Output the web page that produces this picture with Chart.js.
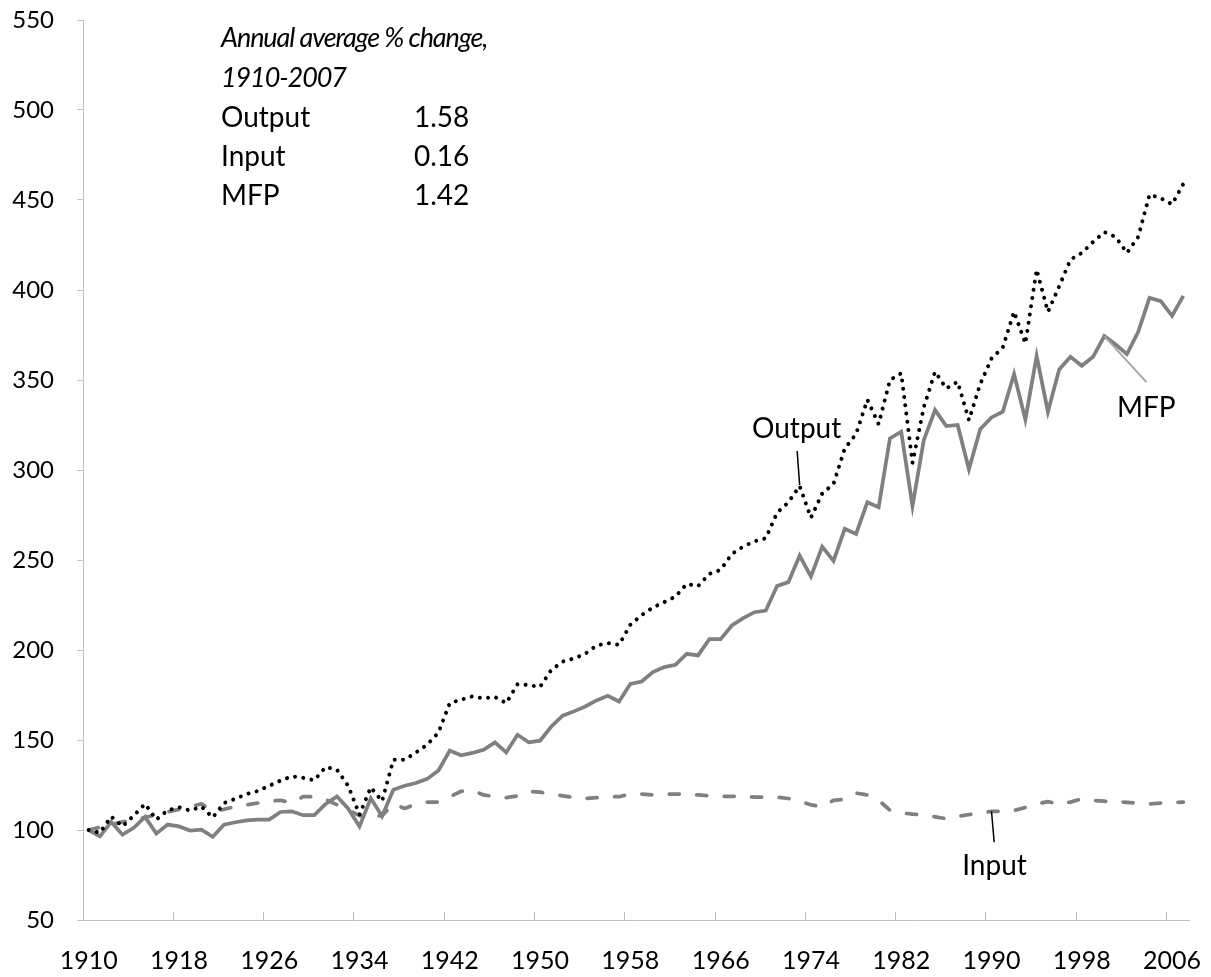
<!DOCTYPE html>
<html>
<head>
<meta charset="utf-8">
<title>Output, input and MFP index, 1910-2007</title>
<script src="https://cdn.jsdelivr.net/npm/chart.js@4.4.1/dist/chart.umd.min.js"></script>
<style>
  body { margin: 0; background: #fff; }
  #wrap { width: 1211px; height: 977px; }
</style>
</head>
<body>
<div id="wrap"><canvas id="chart" width="1211" height="977"></canvas></div>
<script>
const years = [
  1910, 1911, 1912, 1913, 1914, 1915, 1916, 1917, 1918, 1919,
  1920, 1921, 1922, 1923, 1924, 1925, 1926, 1927, 1928, 1929,
  1930, 1931, 1932, 1933, 1934, 1935, 1936, 1937, 1938, 1939,
  1940, 1941, 1942, 1943, 1944, 1945, 1946, 1947, 1948, 1949,
  1950, 1951, 1952, 1953, 1954, 1955, 1956, 1957, 1958, 1959,
  1960, 1961, 1962, 1963, 1964, 1965, 1966, 1967, 1968, 1969,
  1970, 1971, 1972, 1973, 1974, 1975, 1976, 1977, 1978, 1979,
  1980, 1981, 1982, 1983, 1984, 1985, 1986, 1987, 1988, 1989,
  1990, 1991, 1992, 1993, 1994, 1995, 1996, 1997, 1998, 1999,
  2000, 2001, 2002, 2003, 2004, 2005, 2006, 2007
];

// index, 1910 = 100
const output = [
  100, 98.5, 107.5, 102, 108, 114.5, 105.8, 111, 112.6, 110.8,
  113, 107, 115, 117.3, 120, 121.7, 124.6, 127.4, 129.8, 129,
  127.6, 135, 133.5, 124.5, 108.5, 123.7, 116, 139, 139, 143,
  147.4, 154.2, 170.5, 172.4, 174.2, 173.1, 173.9, 170.5, 181, 180.5,
  179.5, 189, 193.6, 195.3, 197.9, 202.5, 203.8, 202.9, 214, 219.4,
  223.6, 226.6, 229.7, 236.7, 235.5, 242.3, 244.5, 253.4, 257.5, 260.4,
  262.1, 276.3, 282, 291.1, 273.5, 287, 292.2, 312, 320, 339,
  325.5, 350, 353.7, 304, 334.8, 354.6, 345.3, 349, 327.7, 347.7,
  362, 368, 387.9, 370.3, 411.4, 387.9, 402.1, 416.9, 420.6, 426.7,
  432.2, 429.5, 420.6, 429.5, 453, 451, 447.6, 459
];

const input = [
  100, 101.5, 103, 104.5, 105.5, 107, 108.5, 110, 111.5, 113,
  114.5, 110.5, 111.5, 113, 114, 115, 116, 116.5, 115, 118.5,
  118.5, 117, 114, 111, 108, 107.5, 108, 114.5, 112, 114.5,
  115.5, 115.5, 118.5, 121.5, 122, 119.5, 118.5, 118, 119, 121.5,
  121, 120, 119, 118, 117.5, 118, 118.5, 118.5, 120, 120,
  119.5, 120, 120, 119.7, 119.5, 119, 118.7, 118.7, 118.5, 118.3,
  118.3, 118.2, 117.5, 116, 114, 112.8, 116.5, 117, 120.5, 119.5,
  116.5, 111, 109.5, 108.8, 108.3, 107.3, 106.3, 107.5, 108.6, 109.3,
  110.4, 110.4, 110.8, 112.5, 114.5, 115.8, 114.2, 115.5, 117.3, 116.5,
  116, 115.6, 115.4, 114.8, 114.5, 115, 115.2, 115.5
];

const mfp = [
  100, 96.5, 104.5, 97.4, 101.2, 107.3, 98, 103, 102, 99.7,
  100.2, 96.2, 103, 104.3, 105.4, 105.8, 105.8, 110, 110.4, 108.2,
  108.3, 114.5, 118.7, 111.8, 102, 117.6, 107.6, 122.4, 124.6, 126.1,
  128.4, 133.1, 144.1, 141.5, 142.8, 144.6, 148.7, 143.1, 152.9, 148.7,
  149.6, 157.5, 163.5, 165.9, 168.6, 172, 174.6, 171.4, 181.2, 182.5,
  187.7, 190.5, 191.8, 197.9, 197, 206, 206, 213.6, 217.7, 221,
  221.9, 235.6, 237.7, 252.4, 240.8, 257.4, 249.5, 267.3, 264.5, 282.1,
  279.3, 317.6, 321.3, 280, 316.6, 333.3, 324.4, 325, 300.4, 322.6,
  329.2, 332.4, 353.3, 328.1, 363.3, 332.4, 355.9, 362.9, 357.9, 362.9,
  374.4, 369.7, 364.4, 376.8, 395.6, 393.8, 385.6, 396.7
];

const summaryTitle = ['Annual average % change,', '1910-2007'];
const summaryNames = ['Output', 'Input', 'MFP'];
const summaryRates = ['1.58', '0.16', '1.42'];

const axisGrey = '#bfbfbf';
const lineGrey = '#808080';

// labels with leader lines, hooked onto one point of each series
const seriesNotes = {
  id: 'seriesNotes',
  afterDatasetsDraw(chart) {
    const { ctx, chartArea, scales } = chart;
    const at = (data, year) => {
      const i = years.indexOf(year);
      return { px: scales.x.getPixelForValue(i), py: scales.y.getPixelForValue(data[i]) };
    };
    ctx.save();
    ctx.fillStyle = '#000';
    ctx.textBaseline = 'alphabetic';

    // summary block, top left
    const bx = chartArea.left + 138;
    ctx.font = 'italic 27px Lato';
    ctx.letterSpacing = '-1.1px';
    ctx.textAlign = 'left';
    summaryTitle.forEach((t, k) => ctx.fillText(t, bx, 47 + k * 40));
    ctx.letterSpacing = '0px';
    ctx.font = '28px Lato';
    summaryNames.forEach((t, k) => {
      ctx.fillText(t, bx, 127 + k * 39);
      ctx.fillText(summaryRates[k], bx + 193, 127 + k * 39);
    });

    ctx.textAlign = 'center';
    ctx.lineWidth = 1.5;

    // Output
    let p = at(output, 1973);
    ctx.strokeStyle = '#000';
    ctx.beginPath();
    ctx.moveTo(p.px, p.py - 1);
    ctx.lineTo(p.px - 2.5, p.py - 35);
    ctx.stroke();
    ctx.fillText('Output', p.px - 3, p.py - 48);

    // Input
    p = at(input, 1990);
    ctx.beginPath();
    ctx.moveTo(p.px, p.py);
    ctx.lineTo(p.px + 2.7, p.py + 31);
    ctx.stroke();
    ctx.fillText('Input', p.px + 3, p.py + 64);

    // MFP
    p = at(mfp, 2000);
    ctx.strokeStyle = '#a6a6a6';
    ctx.lineWidth = 2;
    ctx.beginPath();
    ctx.moveTo(p.px, p.py);
    ctx.lineTo(p.px + 42, p.py + 46);
    ctx.stroke();
    ctx.fillText('MFP', p.px + 42, p.py + 81);

    ctx.restore();
  }
};

Chart.defaults.font.family = 'Lato';
Chart.defaults.color = '#000';

const ctx = document.getElementById('chart').getContext('2d');
const chart = new Chart(ctx, {
  type: 'line',
  data: {
    labels: years,
    datasets: [
      {
        label: 'Output',
        data: output,
        borderColor: '#000',
        borderWidth: 4,
        borderDash: [0.01, 8.3],
        borderCapStyle: 'round',
        borderJoinStyle: 'round',
        pointRadius: 0,
        tension: 0
      },
      {
        label: 'MFP',
        data: mfp,
        borderColor: lineGrey,
        borderWidth: 3.75,
        borderJoinStyle: 'miter',
        pointRadius: 0,
        tension: 0
      },
      {
        label: 'Input',
        data: input,
        borderColor: lineGrey,
        borderWidth: 3.75,
        borderDash: [10, 17.5],
        borderCapStyle: 'round',
        borderJoinStyle: 'round',
        pointRadius: 0,
        tension: 0
      }
    ]
  },
  options: {
    responsive: false,
    devicePixelRatio: 1,
    animation: false,
    layout: {
      padding: { left: 0, right: 22, top: 20, bottom: 0 }
    },
    plugins: {
      legend: { display: false },
      tooltip: { enabled: false }
    },
    scales: {
      x: {
        type: 'category',
        offset: true,
        grid: {
          offset: true,
          drawOnChartArea: false,
          drawTicks: true,
          tickLength: -8,
          lineWidth: 1,
          color: c => (c.index !== undefined && c.index % 8 === 0) ? axisGrey : 'rgba(0,0,0,0)'
        },
        border: { display: true, color: axisGrey, width: 1 },
        ticks: {
          autoSkip: false,
          maxRotation: 0,
          minRotation: 0,
          padding: 34,
          font: { size: 25 },
          callback: (v, i) => i % 8 === 0 ? String(years[i]) : ''
        },
        afterFit: s => { s.height = 57; s.paddingLeft = 0; s.paddingRight = 0; }
      },
      y: {
        min: 50,
        max: 550,
        ticks: {
          stepSize: 50,
          padding: 23,
          font: { size: 24 }
        },
        grid: {
          drawOnChartArea: false,
          drawTicks: true,
          tickLength: 6,
          color: axisGrey
        },
        border: { display: true, color: axisGrey, width: 1 },
        afterFit: s => { s.width = 83; s.paddingTop = 0; s.paddingBottom = 0; }
      }
    }
  },
  plugins: [seriesNotes]
});
</script>
</body>
</html>
